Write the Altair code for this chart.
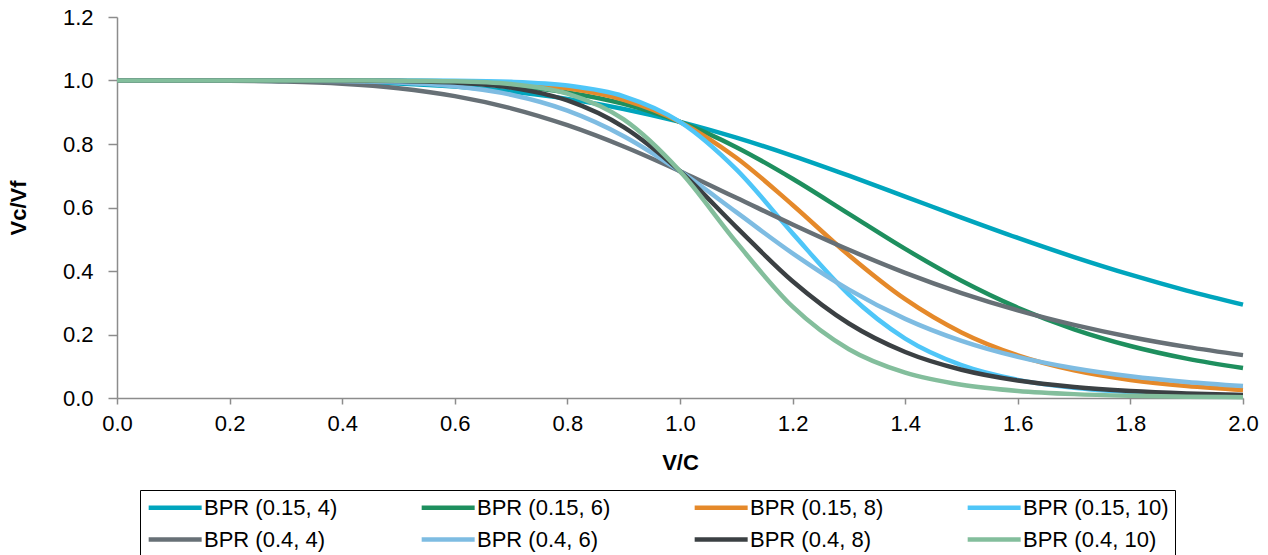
import altair as alt
import pandas as pd

vc = [0.0, 0.1, 0.2, 0.3, 0.4, 0.5, 0.6, 0.7, 0.8, 0.9, 1.0,
      1.1, 1.2, 1.3, 1.4, 1.5, 1.6, 1.7, 1.8, 1.9, 2.0]

series_names = ["BPR (0.15, 4)", "BPR (0.15, 6)", "BPR (0.15, 8)", "BPR (0.15, 10)",
                "BPR (0.4, 4)", "BPR (0.4, 6)", "BPR (0.4, 8)", "BPR (0.4, 10)"]

bpr_015_4 = [1.0, 1.0, 0.9998, 0.9988, 0.9962, 0.9907, 0.9809, 0.9652, 0.9421, 0.9104, 0.8696,
             0.8199, 0.7627, 0.7001, 0.6344, 0.5684, 0.5043, 0.4439, 0.3884, 0.3384, 0.2941]
bpr_015_6 = [1.0, 1.0, 1.0, 0.9999, 0.9994, 0.9977, 0.9931, 0.9827, 0.9622, 0.9262, 0.8696,
             0.7901, 0.6906, 0.5800, 0.4696, 0.3692, 0.2844, 0.2164, 0.1639, 0.1241, 0.0943]
bpr_015_8 = [1.0, 1.0, 1.0, 1.0, 0.9999, 0.9994, 0.9975, 0.9914, 0.9755, 0.9393, 0.8696,
             0.7567, 0.6079, 0.4497, 0.3112, 0.2064, 0.1344, 0.0872, 0.0570, 0.0378, 0.0254]
bpr_015_10 = [1.0, 1.0, 1.0, 1.0, 1.0, 0.9999, 0.9991, 0.9958, 0.9841, 0.9503, 0.8696,
              0.7199, 0.5185, 0.3260, 0.1873, 0.1036, 0.0572, 0.0320, 0.0183, 0.0108, 0.0065]
bpr_04_4 = [1.0, 1.0, 0.9994, 0.9968, 0.9899, 0.9756, 0.9507, 0.9124, 0.8592, 0.7921, 0.7143,
            0.6307, 0.5466, 0.4668, 0.3942, 0.3306, 0.2761, 0.2304, 0.1923, 0.1610, 0.1351]
bpr_04_6 = [1.0, 1.0, 1.0, 0.9997, 0.9984, 0.9938, 0.9817, 0.9551, 0.9051, 0.8247, 0.7143,
            0.5853, 0.4557, 0.3412, 0.2493, 0.1800, 0.1297, 0.0939, 0.0685, 0.0505, 0.0376]
bpr_04_8 = [1.0, 1.0, 1.0, 1.0, 0.9997, 0.9984, 0.9933, 0.9775, 0.9371, 0.8531, 0.7143,
            0.5384, 0.3677, 0.2346, 0.1449, 0.0889, 0.0550, 0.0346, 0.0222, 0.0145, 0.0097]
bpr_04_10 = [1.0, 1.0, 1.0, 1.0, 1.0, 0.9996, 0.9976, 0.9888, 0.9588, 0.8776, 0.7143,
             0.4908, 0.2876, 0.1535, 0.0796, 0.0416, 0.0222, 0.0122, 0.0070, 0.0041, 0.0024]

colors = ["#00A5BD", "#1E8F5E", "#E5892A", "#4FC6F8",
          "#677076", "#7EBCE2", "#3B4043", "#83BE9C"]

all_series = [bpr_015_4, bpr_015_6, bpr_015_8, bpr_015_10,
              bpr_04_4, bpr_04_6, bpr_04_8, bpr_04_10]

rows = []
for k, (name, vals) in enumerate(zip(series_names, all_series)):
    for x, y in zip(vc, vals):
        rows.append({"V/C": x, "Vc/Vf": y, "series": name, "order": k})
df = pd.DataFrame(rows)

FONT = "Liberation Sans"

chart = alt.Chart(df).mark_line(strokeWidth=4.5, interpolate="monotone", strokeCap="butt").encode(
    x=alt.X("V/C:Q",
            scale=alt.Scale(domain=[0, 2.0], nice=False, zero=False),
            axis=alt.Axis(title="V/C", values=[0, 0.2, 0.4, 0.6, 0.8, 1.0, 1.2, 1.4, 1.6, 1.8, 2.0],
                          format=".1f", grid=False, tickSize=6, labelPadding=9,
                          labelFlush=False, labelOverlap=False,
                          titleY=64, titleBaseline="middle", titleFontWeight="bold")),
    y=alt.Y("Vc/Vf:Q",
            scale=alt.Scale(domain=[0, 1.2], nice=False),
            axis=alt.Axis(title="Vc/Vf", values=[0, 0.2, 0.4, 0.6, 0.8, 1.0, 1.2],
                          format=".1f", grid=False, tickSize=9, labelPadding=15,
                          labelFlush=False,
                          titleX=-99, titleY=190.5, titleAngle=270, titleAlign="center",
                          titleBaseline="middle", titleFontWeight="bold")),
    color=alt.Color("series:N",
                    scale=alt.Scale(domain=series_names, range=colors),
                    sort=series_names,
                    legend=alt.Legend(title=None, orient="none", legendX=23, legendY=473,
                                      direction="horizontal",
                                      columns=4, symbolType="M-1,0H5", symbolSize=312,
                                      symbolStrokeWidth=4.5, labelOffset=35,
                                      labelFontSize=22, labelFont=FONT, labelColor="#000",
                                      columnPadding=74, rowPadding=9, padding=6,
                                      strokeColor="#000", labelLimit=300)),
    order=alt.Order("order:Q"),
).properties(
    width=1126,
    height=381,
    autosize=alt.AutoSizeParams(type="none"),
    padding={"left": 117, "top": 17, "right": 25, "bottom": 157},
    background="white",
).configure_view(
    stroke=None
).configure_axis(
    domainColor="#8c8c8c",
    tickColor="#8c8c8c",
    domainWidth=1.5,
    tickWidth=1.5,
    labelFont=FONT,
    labelFontSize=22,
    labelColor="#000",
    titleFont=FONT,
    titleFontSize=22,
    titleColor="#000",
)

chart.save("out.html", embed_options={"renderer": "svg", "actions": False})
